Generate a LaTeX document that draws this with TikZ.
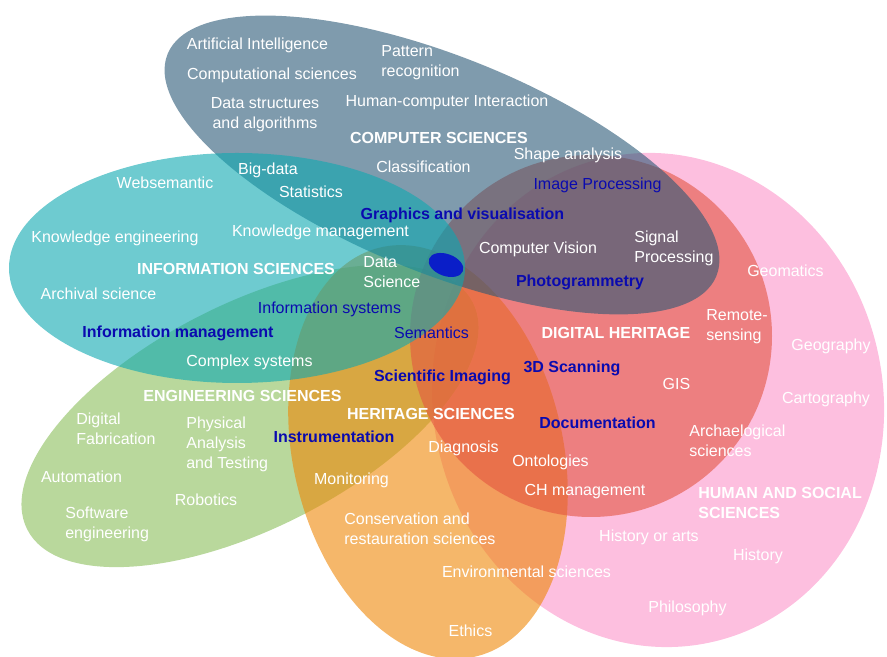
\documentclass[tikz,border=0pt]{standalone}
\usepackage{fontspec}
\setmainfont{Liberation Sans}
\definecolor{csgrey}{RGB}{42,88,118}
\definecolor{isteal}{RGB}{13,168,177}
\definecolor{esgreen}{RGB}{138,190,90}
\definecolor{hsorange}{RGB}{238,135,7}
\definecolor{dhred}{RGB}{228,86,65}
\definecolor{hsspink}{RGB}{252,148,202}
\definecolor{kwblue}{RGB}{10,10,175}
\definecolor{dotblue}{RGB}{10,30,200}

\begin{document}
\begin{tikzpicture}[
    field/.style={fill=#1,fill opacity=.6},
    lbl/.style={white,inner sep=0pt,anchor=base,font=\fontsize{9.1}{11.4}\selectfont},
    lbl left/.style={lbl,anchor=base west,align=left},
    topic/.style={lbl,font=\fontsize{9.1}{11.4}\selectfont\bfseries},
    term/.style={lbl,kwblue},
    termb/.style={topic,kwblue}]
    \clip (0,0) rectangle (17.74,13.14);
    % fields ================================================
    \fill[field=hsspink,rotate around={12:(13.16,5.14)}] (13.16,5.14) ellipse [x radius=4.5,y radius=4.96];
    \fill[field=esgreen,rotate around={27:(5.00,4.82)}] (5.00,4.82) ellipse [x radius=5.0,y radius=2.24];
    \fill[field=hsorange,rotate around={13:(8.56,4.10)}] (8.56,4.10) ellipse [x radius=2.7,y radius=4.2];
    \fill[field=dhred] (11.82,6.42) circle [radius=3.62];
    \fill[field=csgrey,rotate around={-22:(8.84,9.84)}] (8.84,9.84) ellipse [x radius=5.92,y radius=2.16];
    \fill[field=isteal] (4.74,7.78) ellipse [x radius=4.56,y radius=2.30];
    \fill[dotblue,rotate around={-20:(8.92,7.84)}] (8.92,7.84) ellipse [x radius=.36,y radius=.22];
    % COMPUTER SCIENCES =====================================
    \node[lbl]              (AI)    at (5.15,12.14) {Artificial Intelligence};
    \node[lbl]              (CompS) at (5.44,11.54) {Computational sciences};
    \node[lbl,align=center] (DSA)   at (5.30,10.56) {Data structures\\and algorithms};
    \node[lbl left]         (PR)    at (7.62,11.60) {Pattern\\recognition};
    \node[lbl]              (HCI)   at (8.94,11.00) {Human-computer Interaction};
    \node[topic]            (CS)    at (8.78,10.26) {COMPUTER SCIENCES};
    \node[lbl]              (Cl)    at (8.47,9.68)  {Classification};
    \node[lbl]              (SA)    at (11.36,9.94) {Shape analysis};
    \node[term]             (IP)    at (11.95,9.34) {Image Processing};
    \node[termb]            (GV)    at (9.25,8.74)  {Graphics and visualisation};
    \node[lbl]              (CV)    at (10.76,8.06) {Computer Vision};
    \node[lbl left]         (SP)    at (12.68,7.88) {Signal\\Processing};
    \node[termb]            (Ph)    at (11.60,7.40) {Photogrammetry};
    % INFORMATION SCIENCES ==================================
    \node[lbl]              (WS)    at (3.30,9.36)  {Websemantic};
    \node[lbl]              (BD)    at (5.36,9.64)  {Big-data};
    \node[lbl]              (St)    at (6.22,9.18)  {Statistics};
    \node[lbl]              (KE)    at (2.30,8.28)  {Knowledge engineering};
    \node[lbl]              (KM)    at (6.41,8.40)  {Knowledge management};
    \node[topic]            (IS)    at (4.72,7.64)  {INFORMATION SCIENCES};
    \node[lbl left]         (DSc)   at (7.26,7.38)  {Data\\Science};
    \node[lbl]              (AS)    at (1.97,7.14)  {Archival science};
    \node[term]             (ISy)   at (6.59,6.86)  {Information systems};
    \node[termb]            (IM)    at (3.56,6.38)  {Information management};
    \node[term]             (Sem)   at (8.63,6.36)  {Semantics};
    \node[lbl]              (CSy)   at (4.99,5.80)  {Complex systems};
    % DIGITAL HERITAGE ======================================
    \node[lbl]              (Geom)  at (15.71,7.60) {Geomatics};
    \node[lbl left]         (RS)    at (14.12,6.32) {Remote-\\sensing};
    \node[topic]            (DH)    at (12.32,6.36) {DIGITAL HERITAGE};
    \node[termb]            (Scan)  at (11.44,5.68) {3D Scanning};
    \node[lbl]              (GIS)   at (13.53,5.34) {GIS};
    \node[termb]            (Doc)   at (11.95,4.56) {Documentation};
    \node[lbl]              (Ont)   at (11.01,3.80) {Ontologies};
    \node[lbl]              (CHM)   at (11.70,3.22) {CH management};
    \node[lbl left]         (Arch)  at (13.78,4.00) {Archaelogical\\sciences};
    % HUMAN AND SOCIAL SCIENCES =============================
    \node[lbl]              (Geog)  at (16.62,6.12) {Geography};
    \node[lbl]              (Cart)  at (16.52,5.06) {Cartography};
    \node[topic,anchor=base west,align=left] (HSS) at (13.96,2.76) {HUMAN AND SOCIAL\\SCIENCES};
    \node[lbl]              (HA)    at (12.98,2.30) {History or arts};
    \node[lbl]              (Hist)  at (15.16,1.92) {History};
    \node[lbl]              (Phil)  at (13.75,0.88) {Philosophy};
    % ENGINEERING SCIENCES ==================================
    \node[topic]            (ES)    at (4.85,5.10)  {ENGINEERING SCIENCES};
    \node[lbl left]         (DF)    at (1.52,4.24)  {Digital\\Fabrication};
    \node[lbl left]         (PAT)   at (3.72,3.76)  {Physical\\Analysis\\and Testing};
    \node[lbl]              (Aut)   at (1.63,3.48)  {Automation};
    \node[lbl]              (Rob)   at (4.12,3.02)  {Robotics};
    \node[lbl left]         (SE)    at (1.30,2.36)  {Software\\engineering};
    % HERITAGE SCIENCES =====================================
    \node[termb]            (SI)    at (8.85,5.50)  {Scientific Imaging};
    \node[topic]            (HS)    at (8.62,4.74)  {HERITAGE SCIENCES};
    \node[termb]            (Ins)   at (6.68,4.28)  {Instrumentation};
    \node[lbl]              (Diag)  at (9.27,4.08)  {Diagnosis};
    \node[lbl]              (Mon)   at (7.03,3.44)  {Monitoring};
    \node[lbl left]         (CRS)   at (6.88,2.24)  {Conservation and\\restauration sciences};
    \node[lbl]              (Env)   at (10.53,1.58) {Environmental sciences};
    \node[lbl]              (Eth)   at (9.41,0.40)  {Ethics};
\end{tikzpicture}
\end{document}
